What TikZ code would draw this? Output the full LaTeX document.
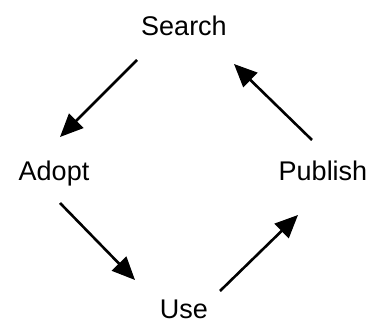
\documentclass[tikz,border=0pt]{standalone}
\usepackage{fontspec}
\setmainfont{Liberation Sans}
\usetikzlibrary{arrows.meta}
\begin{document}
\begin{tikzpicture}[x=1pt,y=-1pt,
  lbl/.style={font=\fontsize{27}{32}\selectfont, inner sep=0pt, anchor=base},
  arr/.style={line width=2.6pt, -{Triangle[length=23pt,width=20pt]}}]
\useasboundingbox (0,0) rectangle (376,324);
\node[lbl] (search) at (184,35) {Search};
\node[lbl] (adopt) at (54,180) {Adopt};
\node[lbl] (publish) at (323,180) {Publish};
\node[lbl] (use) at (184,318) {Use};
\coordinate (a1s) at (137,60);
\coordinate (a1e) at (60,137);
\coordinate (a2s) at (312,140);
\coordinate (a2e) at (234,64);
\coordinate (a3s) at (60,203);
\coordinate (a3e) at (135,280);
\coordinate (a4s) at (220,291);
\coordinate (a4e) at (298,215);
\draw[arr] (a1s) -- (a1e);
\draw[arr] (a3s) -- (a3e);
\draw[arr] (a4s) -- (a4e);
\draw[arr] (a2s) -- (a2e);
\end{tikzpicture}
\end{document}
